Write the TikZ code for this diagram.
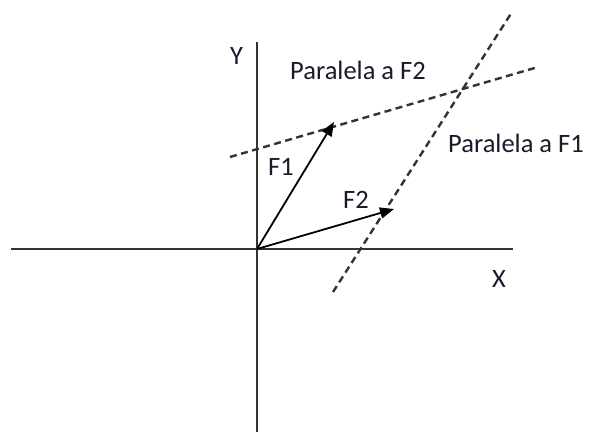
\documentclass[tikz,border=0pt]{standalone}
\usepackage{fontspec}
\setmainfont{Carlito}
\usetikzlibrary{arrows.meta}
\definecolor{axisgray}{HTML}{333333}
\definecolor{txt}{HTML}{1A1A2A}
\tikzset{
  axisline/.style={draw=axisgray, line width=2.4pt},
  vec/.style={draw=black, line width=1.8pt, -{Triangle[length=14pt,width=11pt]}},
  parline/.style={draw=axisgray, line width=2.4pt, dash pattern=on 7pt off 4.5pt},
  lbl/.style={font=\fontsize{26.5}{28}\selectfont, text=txt, inner sep=0pt, anchor=base west}
}
\begin{document}
\begin{tikzpicture}[x=1pt,y=-1pt]
\useasboundingbox (0,0) rectangle (592,432);
\coordinate (O) at (257,249);
\coordinate (xl) at (11,249);
\coordinate (xr) at (513,249);
\coordinate (yt) at (257,42);
\coordinate (yb) at (257,432);
\coordinate (f1) at (334,122);
\coordinate (f2) at (394,209);
\coordinate (p2a) at (230,157);
\coordinate (p2b) at (538,67);
\coordinate (p1a) at (333,292);
\coordinate (p1b) at (512,12);
\draw[axisline] (xl) -- (xr);
\draw[axisline] (yt) -- (yb);
\draw[parline] (p2a) -- (p2b);
\draw[parline] (p1a) -- (p1b);
\draw[vec] (O) -- (f1);
\draw[vec] (O) -- (f2);
\node[lbl] (ylab) at (230,64) {Y};
\node[lbl] (xlab) at (492,287) {X};
\node[lbl] (pf2) at (290,79) {Paralela a F2};
\node[lbl] (pf1) at (448,152) {Paralela a F1};
\node[lbl] (f1lab) at (268,175) {F1};
\node[lbl] (f2lab) at (343,208) {F2};
\end{tikzpicture}
\end{document}
